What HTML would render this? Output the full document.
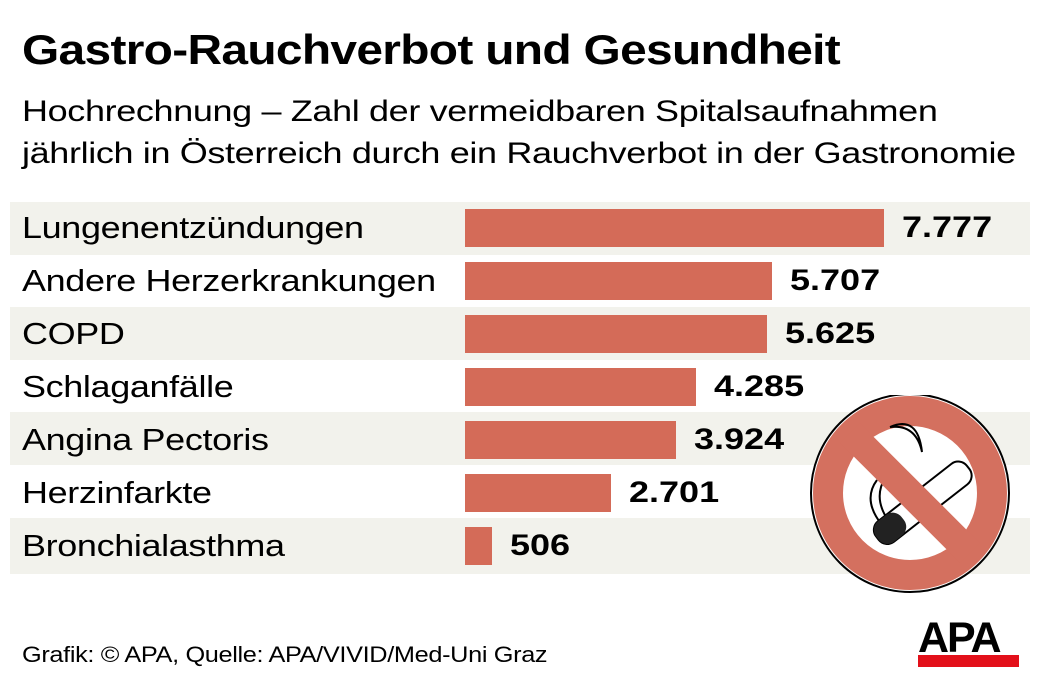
<!DOCTYPE html>
<html><head><meta charset="utf-8"><style>
body{margin:0;width:1040px;height:686px;background:#fff;position:relative;overflow:hidden;font-family:"Liberation Sans",sans-serif;color:#000}
.t{position:absolute;white-space:nowrap;transform-origin:0 0}
.s{position:absolute;left:10px;width:1020px;height:53px;background:#f2f2ec}
.b{position:absolute;left:465px;height:38px;background:#d46b58}
.l{position:absolute;left:22px;font-size:31px;line-height:38px;white-space:nowrap;letter-spacing:-0.3px;transform:scaleX(1.16);transform-origin:0 0}
.v{position:absolute;font-size:30px;font-weight:bold;line-height:38px;transform:scaleX(1.2);transform-origin:0 0}
</style></head><body>
<div class="t" style="left:22px;top:26px;font-size:42px;font-weight:bold;letter-spacing:-0.6px;transform:scaleX(1.14)">Gastro-Rauchverbot und Gesundheit</div>
<div class="t" style="left:22px;top:91px;font-size:30px;line-height:42px;letter-spacing:-0.3px;transform:scaleX(1.2)">Hochrechnung – Zahl der vermeidbaren Spitalsaufnahmen<br>jährlich in Österreich durch ein Rauchverbot in der Gastronomie</div>
<div class="s" style="top:202px"></div>
<div class="s" style="top:307px"></div>
<div class="s" style="top:412px"></div>
<div class="s" style="top:518px;height:56px"></div>

<div class="l" style="top:209px">Lungenentzündungen</div><div class="b" style="top:209px;width:419px"></div><div class="v" style="top:209px;left:902px">7.777</div>
<div class="l" style="top:262px">Andere Herzerkrankungen</div><div class="b" style="top:262px;width:307px"></div><div class="v" style="top:262px;left:790px">5.707</div>
<div class="l" style="top:315px">COPD</div><div class="b" style="top:315px;width:302px"></div><div class="v" style="top:315px;left:785px">5.625</div>
<div class="l" style="top:368px">Schlaganfälle</div><div class="b" style="top:368px;width:231px"></div><div class="v" style="top:368px;left:714px">4.285</div>
<div class="l" style="top:421px">Angina Pectoris</div><div class="b" style="top:421px;width:211px"></div><div class="v" style="top:421px;left:694px">3.924</div>
<div class="l" style="top:474px">Herzinfarkte</div><div class="b" style="top:474px;width:146px"></div><div class="v" style="top:474px;left:629px">2.701</div>
<div class="l" style="top:527px">Bronchialasthma</div><div class="b" style="top:527px;width:27px"></div><div class="v" style="top:527px;left:510px">506</div>

<svg style="position:absolute;left:805px;top:395px" width="210" height="200" viewBox="0 0 210 200">
<circle cx="105" cy="98" r="99" fill="#fff" stroke="#000" stroke-width="2"/>
<circle cx="105" cy="98" r="82" fill="none" stroke="#d4705f" stroke-width="30"/>
<path d="M85 32 q28 -12 32 25 q-6 -28 -32 -25" fill="none" stroke="#000" stroke-width="2"/>
<path d="M72 85 q-15 20 5 45 M80 83 q-12 20 3 42" fill="none" stroke="#000" stroke-width="2"/>
<g transform="rotate(-38 110 110)"><rect x="60" y="100" width="115" height="26" rx="11" fill="#fff" stroke="#000" stroke-width="2"/><rect x="60" y="100" width="32" height="26" rx="11" fill="#222"/></g>
<line x1="45" y1="38" x2="165" y2="158" stroke="#d4705f" stroke-width="28"/>
</svg>

<div class="t" style="left:22px;top:642px;font-size:22px;letter-spacing:-0.3px;transform:scaleX(1.15)">Grafik: © APA, Quelle: APA/VIVID/Med-Uni Graz</div>
<div class="t" style="left:918px;top:618px;font-size:43px;font-weight:bold;letter-spacing:-2px;line-height:40px">APA</div>
<div style="position:absolute;left:918px;top:655px;width:101px;height:12px;background:#e3101a"></div>
</body></html>
